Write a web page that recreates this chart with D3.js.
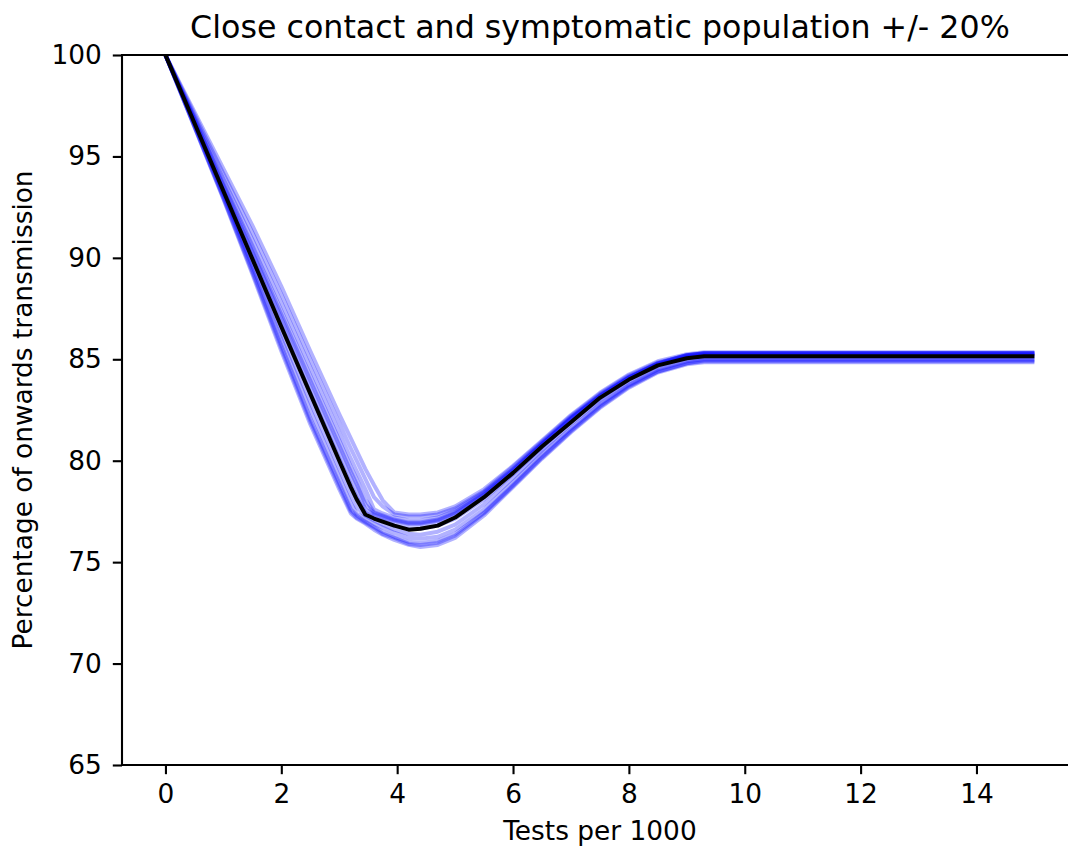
<!DOCTYPE html>
<html>
<head>
<meta charset="utf-8">
<script src="https://cdn.jsdelivr.net/npm/d3@7"></script>
<style>
  html, body { margin: 0; padding: 0; background: #fff; }
  svg { display: block; }
  text { font-family: "DejaVu Sans", sans-serif; fill: #000; }
</style>
</head>
<body>
<svg id="chart" width="1068" height="851"></svg>
<script>
// ---- data ----
const title = "Close contact and symptomatic population +/- 20%";
const xLabel = "Tests per 1000";
const yLabel = "Percentage of onwards transmission";
const xTicks = [0, 2, 4, 6, 8, 10, 12, 14];
const yTicks = [65, 70, 75, 80, 85, 90, 95, 100];

const testsPer1000 = [0, 1, 1.5, 2, 2.5, 3, 3.2, 3.3, 3.45, 3.6, 3.75, 3.95, 4.2, 4.4, 4.7, 5, 5.5, 6, 6.5, 7, 7.5, 8, 8.5, 9, 9.3, 10, 15];

// baseline scenario (black)
const baseline = [100, 93.3, 89.95, 86.6, 83.3, 80.0, 78.7, 78.1, 77.35, 77.15, 77.0, 76.8, 76.6, 76.65, 76.8, 77.2, 78.2, 79.4, 80.7, 81.9, 83.1, 84.0, 84.7, 85.05, 85.15, 85.15, 85.15];

// perturbed scenarios (+/- 20%, blue)
const variant1 = [100, 92.9, 89.2, 85.4, 81.8, 78.6, 77.4, 77.15, 76.9, 76.6, 76.35, 76.1, 75.85, 75.75, 75.85, 76.2, 77.3, 78.7, 80.1, 81.4, 82.6, 83.6, 84.35, 84.75, 84.85, 84.85, 84.85];
const variant2 = [100, 93.1, 89.6, 86.0, 82.5, 79.2, 77.9, 77.4, 77.15, 76.9, 76.7, 76.45, 76.2, 76.15, 76.25, 76.6, 77.6, 78.95, 80.35, 81.6, 82.8, 83.75, 84.5, 84.9, 85.0, 85.0, 85.0];
const variant3 = [100, 93.2, 89.8, 86.3, 82.9, 79.6, 78.3, 77.7, 77.3, 77.05, 76.85, 76.6, 76.4, 76.35, 76.5, 76.85, 77.85, 79.15, 80.5, 81.8, 82.95, 83.9, 84.6, 85.0, 85.1, 85.1, 85.1];
const variant4 = [100, 93.5, 90.3, 87.0, 83.7, 80.5, 79.2, 78.6, 77.6, 77.35, 77.2, 77.0, 76.85, 76.85, 77.0, 77.35, 78.3, 79.5, 80.8, 82.05, 83.15, 84.1, 84.75, 85.15, 85.25, 85.25, 85.25];
const variant5 = [100, 93.9, 90.9, 87.8, 84.6, 81.4, 80.1, 79.5, 78.6, 77.6, 77.4, 77.2, 77.05, 77.05, 77.2, 77.55, 78.45, 79.6, 80.9, 82.15, 83.25, 84.15, 84.8, 85.2, 85.3, 85.3, 85.3];
const variant6 = [100, 94.4, 91.6, 88.6, 85.4, 82.3, 81.1, 80.5, 79.6, 78.8, 78.05, 77.45, 77.35, 77.35, 77.45, 77.75, 78.6, 79.75, 81.0, 82.25, 83.35, 84.25, 84.9, 85.25, 85.35, 85.35, 85.35];
const variant7 = [100, 93.0, 89.4, 85.7, 82.1, 78.9, 77.6, 77.3, 77.0, 76.75, 76.5, 76.25, 76.0, 75.95, 76.05, 76.4, 77.45, 78.8, 80.2, 81.5, 82.7, 83.7, 84.4, 84.8, 84.95, 84.95, 84.95];
const variant8 = [100, 93.7, 90.6, 87.4, 84.2, 81.0, 79.7, 79.1, 78.1, 77.45, 77.3, 77.1, 76.95, 76.95, 77.1, 77.45, 78.4, 79.55, 80.85, 82.1, 83.2, 84.1, 84.8, 85.2, 85.3, 85.3, 85.3];
const variant9 = [100, 93.35, 90.05, 86.7, 83.35, 80.1, 78.8, 78.2, 77.45, 77.2, 77.05, 76.8, 76.65, 76.65, 76.8, 77.15, 78.1, 79.35, 80.65, 81.95, 83.05, 84.0, 84.7, 85.1, 85.2, 85.2, 85.2];
const variant10 = [100, 94.15, 91.25, 88.2, 85.0, 81.85, 80.6, 80.0, 79.1, 78.2, 77.75, 77.35, 77.25, 77.25, 77.35, 77.65, 78.5, 79.7, 80.95, 82.2, 83.3, 84.2, 84.85, 85.2, 85.3, 85.3, 85.3];
const variant11 = [100, 92.95, 89.3, 85.55, 81.95, 78.75, 77.5, 77.2, 76.95, 76.7, 76.4, 76.2, 75.9, 75.85, 75.95, 76.3, 77.4, 78.75, 80.15, 81.45, 82.65, 83.65, 84.4, 84.8, 84.9, 84.9, 84.9];
const variant12 = [100, 93.6, 90.45, 87.2, 83.95, 80.75, 79.45, 78.85, 77.85, 77.4, 77.25, 77.05, 76.9, 76.9, 77.05, 77.4, 78.35, 79.5, 80.8, 82.1, 83.2, 84.1, 84.8, 85.2, 85.3, 85.3, 85.3];

const variants = [variant1, variant2, variant3, variant4, variant5, variant6, variant7, variant8, variant9, variant10, variant11, variant12];

// ---- layout ----
const svg = d3.select("#chart");
const mLeft = 122, mTop = 55, mBottom = 765;
const x = d3.scaleLinear().domain([-0.75, 15.75]).range([mLeft, mLeft + 16.5 * 57.93]);
const y = d3.scaleLinear().domain([65, 100]).range([mBottom, mTop]);
const mRight = x.range()[1];
const fs = 26.4;

const line = d3.line()
  .x((d, i) => x(testsPer1000[i]))
  .y(d => y(d));

const plot = svg.append("g");
plot.append("defs").append("clipPath").attr("id", "clip")
  .append("rect").attr("x", mLeft).attr("y", mTop).attr("width", mRight - mLeft).attr("height", mBottom - mTop);

const lines = plot.append("g").attr("clip-path", "url(#clip)");
variants.forEach(v => {
  lines.append("path")
    .attr("d", line(v))
    .attr("fill", "none")
    .attr("stroke", "#0000ff")
    .attr("stroke-opacity", 0.3)
    .attr("stroke-width", 4)
    .attr("stroke-linejoin", "round")
    .attr("stroke-linecap", "butt");
});
lines.append("path")
  .attr("d", line(baseline))
  .attr("fill", "none")
  .attr("stroke", "#000")
  .attr("stroke-width", 4)
  .attr("stroke-linejoin", "round")
  .attr("stroke-linecap", "butt");

// axes
const tickLen = 9.2;
const xAxis = d3.axisBottom(x).tickValues(xTicks).tickSize(tickLen).tickPadding(10.5).tickFormat(d3.format("d"));
const yAxis = d3.axisLeft(y).tickValues(yTicks).tickSize(tickLen).tickPadding(11).tickFormat(d3.format("d"));

const gx = svg.append("g").attr("transform", `translate(0,${mBottom})`).call(xAxis);
const gy = svg.append("g").attr("transform", `translate(${mLeft},0)`).call(yAxis);
[gx, gy].forEach(g => {
  g.select(".domain").remove();
  g.selectAll(".tick line").attr("stroke", "#000").attr("stroke-width", 2.1);
  g.selectAll(".tick text").style("font-size", fs + "px").attr("fill", "#000").style("font-family", "DejaVu Sans");
});

// spines
const spines = svg.append("g").attr("stroke", "#000").attr("stroke-width", 2.1).attr("fill", "none");
spines.append("line").attr("x1", mLeft).attr("x2", mLeft).attr("y1", mTop).attr("y2", mBottom);
spines.append("line").attr("x1", mLeft - 1).attr("x2", mRight).attr("y1", mBottom).attr("y2", mBottom);
spines.append("line").attr("x1", mLeft - 1).attr("x2", mRight).attr("y1", mTop).attr("y2", mTop);
spines.append("line").attr("x1", mRight).attr("x2", mRight).attr("y1", mTop).attr("y2", mBottom);

// labels
svg.append("text")
  .attr("x", (mLeft + mRight) / 2).attr("y", 38)
  .attr("text-anchor", "middle").style("font-size", "31.7px")
  .text(title);
svg.append("text")
  .attr("x", (mLeft + mRight) / 2).attr("y", 840)
  .attr("text-anchor", "middle").style("font-size", fs + "px")
  .text(xLabel);
svg.append("text")
  .attr("transform", `translate(32,${(mTop + mBottom) / 2}) rotate(-90)`)
  .attr("text-anchor", "middle").style("font-size", fs + "px")
  .text(yLabel);
</script>
</body>
</html>
